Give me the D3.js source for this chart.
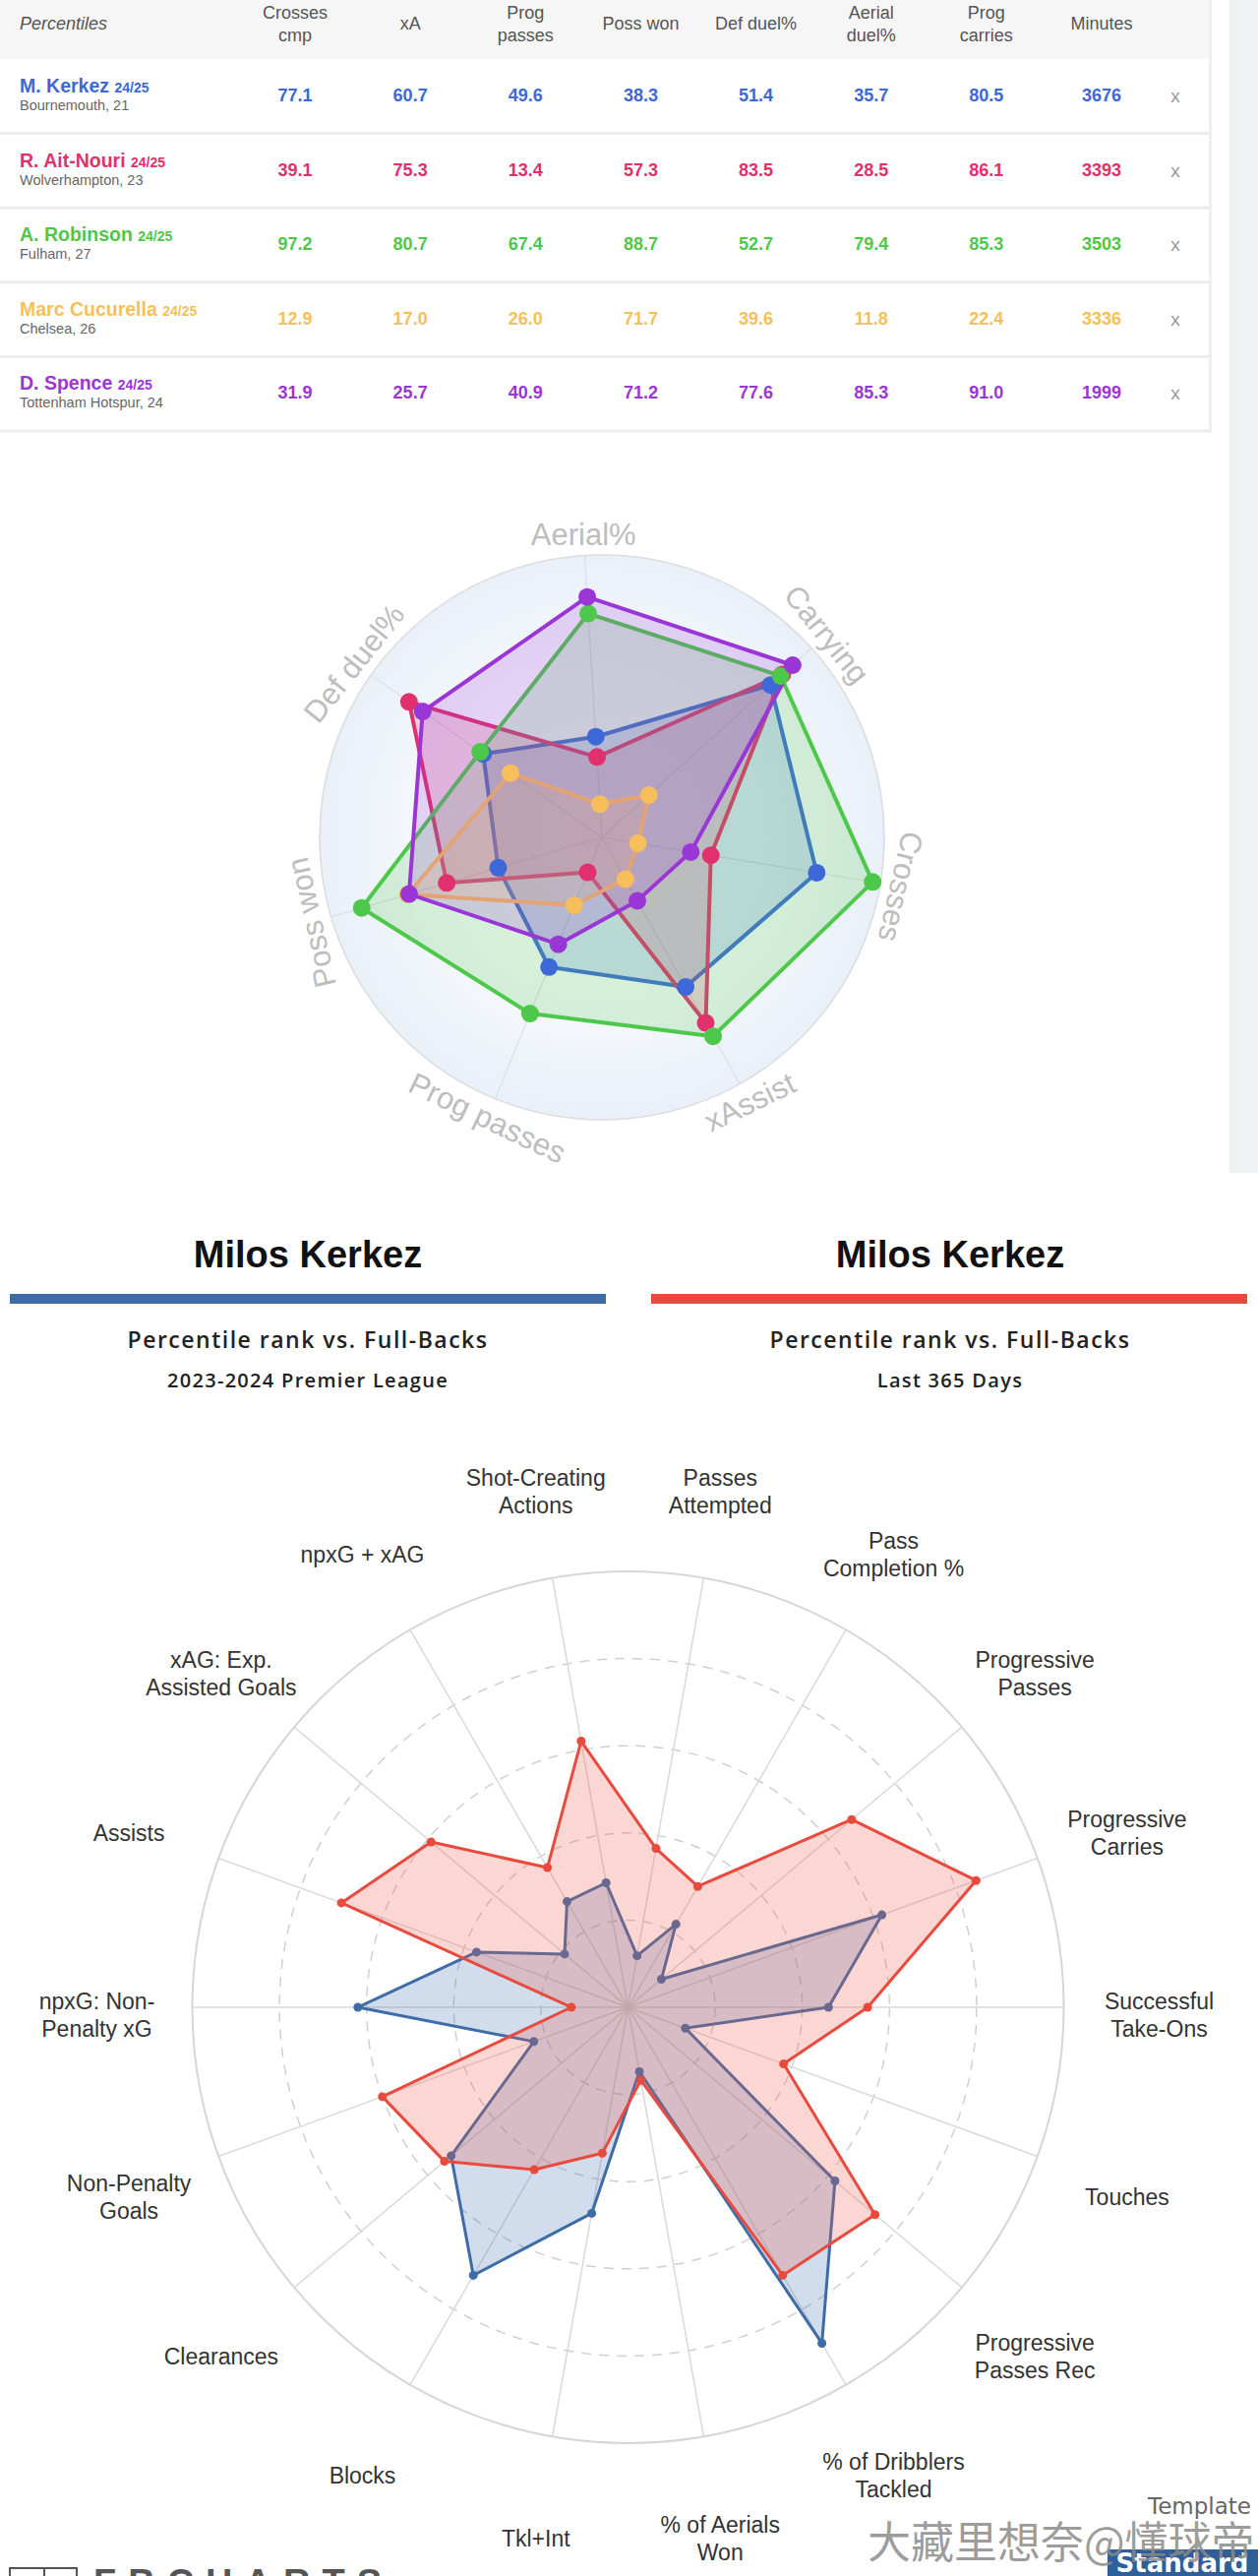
<!DOCTYPE html>
<html>
<head>
<meta charset="utf-8">
<script src="https://cdn.jsdelivr.net/npm/d3@7"></script>
<style>
  body { margin: 0; background: #fff; }
  svg { display: block; }
</style>
</head>
<body>
<div id="graf"></div>
<script>
// ---- datos tabla / radar 1 ----
const players = ['M. Kerkez', 'R. Ait-Nouri', 'A. Robinson', 'Marc Cucurella', 'D. Spence']
const season = '24/25'
const clubs = ['Bournemouth, 21', 'Wolverhampton, 23', 'Fulham, 27', 'Chelsea, 26', 'Tottenham Hotspur, 24']
const colHeaders = [['Crosses', 'cmp'], ['xA'], ['Prog', 'passes'], ['Poss won'], ['Def duel%'], ['Aerial', 'duel%'], ['Prog', 'carries'], ['Minutes']]

const crossesCmp = [77.1, 39.1, 97.2, 12.9, 31.9]
const xA = [60.7, 75.3, 80.7, 17.0, 25.7]
const progPasses = [49.6, 13.4, 67.4, 26.0, 40.9]
const possWon = [38.3, 57.3, 88.7, 71.7, 71.2]
const defDuel = [51.4, 83.5, 52.7, 39.6, 77.6]
const aerialDuel = [35.7, 28.5, 79.4, 11.8, 85.3]
const progCarries = [80.5, 86.1, 85.3, 22.4, 91.0]
const minutes = [3676, 3393, 3503, 3336, 1999]

const playerColors = ['#3d68d8', '#e0306e', '#4ec84a', '#f6bf5c', '#9b36d6']

const radar1Axes = ['Aerial%', 'Carrying', 'Crosses', 'xAssist', 'Prog passes', 'Poss won', 'Def duel%']
const radar1Series = [aerialDuel, progCarries, crossesCmp, xA, progPasses, possWon, defDuel]

// ---- datos radar 2 (Milos Kerkez) ----
const radar2Axes = [
  ['Passes', 'Attempted'], ['Pass', 'Completion %'], ['Progressive', 'Passes'], ['Progressive', 'Carries'],
  ['Successful', 'Take-Ons'], ['Touches'], ['Progressive', 'Passes Rec'], ['% of Dribblers', 'Tackled'],
  ['% of Aerials', 'Won'], ['Tkl+Int'], ['Blocks'], ['Clearances'], ['Non-Penalty', 'Goals'],
  ['npxG: Non-', 'Penalty xG'], ['Assists'], ['xAG: Exp.', 'Assisted Goals'], ['npxG + xAG'], ['Shot-Creating', 'Actions']
]
const season2324 = [12, 22, 10, 62, 46, 14, 62, 89, 15, 48, 71, 53, 23, 62, 37, 19, 28, 29]
const last365 = [37, 32, 67, 85, 55, 38, 74, 71, 17, 34, 43, 55, 60, 13, 70, 59, 37, 62]
const ringTicks = [20, 40, 60, 80]

const titles = ['Milos Kerkez', 'Milos Kerkez']
const subtitles = ['Percentile rank vs. Full-Backs', 'Percentile rank vs. Full-Backs']
const periods = ['2023-2024 Premier League', 'Last 365 Days']
const periodColors = ['#3d6ca6', '#e84b3e']

const W = 1279
const H = 2618
const rad = Math.PI / 180

const svg = d3.select('#graf')
  .append('svg')
  .attr('width', W)
  .attr('height', H)
  .style('font-family', '"Liberation Sans", Arial, sans-serif')

const defs = svg.append('defs')

// franja gris de la derecha
svg.append('rect')
  .attr('x', 1250).attr('y', 0)
  .attr('width', 29).attr('height', 1192)
  .attr('fill', '#f0f1f3')

// ================= TABLA =================
const cols = d3.range(colHeaders.length)
const x = d3.scalePoint().domain(cols).range([300, 1120])
const y = d3.scaleBand().domain(players).range([60, 438])

const tabla = svg.append('g')

tabla.append('rect')
  .attr('x', 0).attr('y', 0)
  .attr('width', 1230).attr('height', 60)
  .attr('fill', '#f6f6f6')

tabla.append('rect')
  .attr('x', 1229).attr('y', 0)
  .attr('width', 3).attr('height', 440)
  .attr('fill', '#efefef')

tabla.append('text')
  .attr('x', 20).attr('y', 30)
  .attr('font-size', 18)
  .attr('font-style', 'italic')
  .attr('fill', '#555')
  .text('Percentiles')

colHeaders.forEach((lines, i) => {
  const t = tabla.append('text')
    .attr('x', x(i))
    .attr('text-anchor', 'middle')
    .attr('font-size', 18)
    .attr('fill', '#555')
  lines.forEach((l, j) => {
    t.append('tspan')
      .attr('x', x(i))
      .attr('y', lines.length == 1 ? 30 : 19 + j * 23)
      .text(l)
  })
})

const values = [crossesCmp, xA, progPasses, possWon, defDuel, aerialDuel, progCarries, minutes]

players.forEach((p, k) => {
  const y0 = y(p)
  const row = tabla.append('g')

  row.append('line')
    .attr('x1', 0).attr('x2', 1230)
    .attr('y1', y0 + y.bandwidth()).attr('y2', y0 + y.bandwidth())
    .attr('stroke', '#ececec')
    .attr('stroke-width', 3)

  const nm = row.append('text')
    .attr('x', 20).attr('y', y0 + 34)
    .attr('font-weight', 'bold')
    .attr('fill', playerColors[k])
  nm.append('tspan').attr('font-size', 19.5).text(p + ' ')
  nm.append('tspan').attr('font-size', 14).text(season)

  row.append('text')
    .attr('x', 20).attr('y', y0 + 52)
    .attr('font-size', 14.5)
    .attr('fill', '#666')
    .text(clubs[k])

  values.forEach((arr, i) => {
    row.append('text')
      .attr('x', x(i)).attr('y', y0 + 43)
      .attr('text-anchor', 'middle')
      .attr('font-size', 18)
      .attr('font-weight', 'bold')
      .attr('fill', playerColors[k])
      .text(i == 7 ? arr[k] : arr[k].toFixed(1))
  })

  row.append('text')
    .attr('x', 1195).attr('y', y0 + 44)
    .attr('text-anchor', 'middle')
    .attr('font-size', 19)
    .attr('fill', '#999')
    .text('x')
})

// ================= RADAR 1 =================
const c1 = { x: 612, y: 851 }
const R1 = 287
const off1 = -3.5
const r1 = d3.scaleLinear().domain([0, 100]).range([0, R1])
const step1 = 360 / radar1Axes.length

const grad = defs.append('radialGradient').attr('id', 'bg1')
grad.append('stop').attr('offset', '0%').attr('stop-color', '#ffffff')
grad.append('stop').attr('offset', '60%').attr('stop-color', '#f6f9fd')
grad.append('stop').attr('offset', '100%').attr('stop-color', '#e9f0f8')

const g1 = svg.append('g').attr('transform', `translate(${c1.x}, ${c1.y})`)

g1.append('circle')
  .attr('r', R1)
  .attr('fill', 'url(#bg1)')
  .attr('stroke', '#d9dce0')
  .attr('stroke-width', 1.5)

radar1Axes.forEach((a, i) => {
  const ang = (i * step1 + off1) * rad
  g1.append('line')
    .attr('x1', 0).attr('y1', 0)
    .attr('x2', R1 * Math.sin(ang)).attr('y2', -R1 * Math.cos(ang))
    .attr('stroke', '#dcdfe3')
    .attr('stroke-width', 1.2)

  const nominal = i * step1
  const rot = nominal <= 110 ? nominal : nominal < 250 ? nominal - 180 : nominal - 360
  const lr = 308
  g1.append('text')
    .attr('transform', `translate(${lr * Math.sin(ang)}, ${-lr * Math.cos(ang)}) rotate(${rot})`)
    .attr('text-anchor', 'middle')
    .attr('dy', '0.35em')
    .attr('font-size', 31)
    .attr('fill', '#bdbdbd')
    .text(a)
})

const line1 = d3.lineRadial()
  .angle((d, i) => (i * step1 + off1) * rad)
  .radius(d => r1(d))
  .curve(d3.curveLinearClosed)

players.forEach((p, k) => {
  const vals = radar1Series.map(s => s[k])
  g1.append('path')
    .datum(vals)
    .attr('d', line1)
    .attr('fill', playerColors[k])
    .attr('fill-opacity', 0.2)
    .attr('stroke', playerColors[k])
    .attr('stroke-width', 4)
    .attr('stroke-linejoin', 'round')
})

players.forEach((p, k) => {
  const vals = radar1Series.map(s => s[k])
  g1.selectAll(null)
    .data(vals)
    .enter()
    .append('circle')
      .attr('cx', (d, i) => r1(d) * Math.sin((i * step1 + off1) * rad))
      .attr('cy', (d, i) => -r1(d) * Math.cos((i * step1 + off1) * rad))
      .attr('r', 9)
      .attr('fill', playerColors[k])
})

// ================= CABECERAS =================
const centersX = [313, 966]
titles.forEach((t, i) => {
  svg.append('text')
    .attr('x', centersX[i]).attr('y', 1288)
    .attr('text-anchor', 'middle')
    .attr('font-size', 38)
    .attr('font-weight', 'bold')
    .attr('fill', '#111')
    .text(t)

  svg.append('rect')
    .attr('x', i == 0 ? 10 : 662).attr('y', 1315)
    .attr('width', 606).attr('height', 10)
    .attr('fill', periodColors[i])

  svg.append('text')
    .attr('x', centersX[i]).attr('y', 1370)
    .attr('text-anchor', 'middle')
    .attr('font-family', '"Open Sans", sans-serif')
    .attr('font-size', 23)
    .attr('font-weight', 600)
    .attr('letter-spacing', 1.5)
    .attr('fill', '#222')
    .text(subtitles[i])

  svg.append('text')
    .attr('x', centersX[i]).attr('y', 1410)
    .attr('text-anchor', 'middle')
    .attr('font-family', '"Open Sans", sans-serif')
    .attr('font-size', 20)
    .attr('font-weight', 600)
    .attr('letter-spacing', 1.3)
    .attr('fill', '#222')
    .text(periods[i])
})

// ================= RADAR 2 =================
const c2 = { x: 638.5, y: 2040 }
const R2 = 443
const r2 = d3.scaleLinear().domain([0, 100]).range([0, R2])
const step2 = 360 / radar2Axes.length
const a2 = i => (step2 / 2 + i * step2) * rad

const g2 = svg.append('g').attr('transform', `translate(${c2.x}, ${c2.y})`)

ringTicks.forEach(t => {
  g2.append('circle')
    .attr('r', r2(t))
    .attr('fill', 'none')
    .attr('stroke', '#d0d0d0')
    .attr('stroke-width', 1.5)
    .attr('stroke-dasharray', '10,8')
})

g2.append('circle')
  .attr('r', R2)
  .attr('fill', 'none')
  .attr('stroke', '#d6d6d6')
  .attr('stroke-width', 2)

radar2Axes.forEach((lines, i) => {
  const ang = a2(i)
  g2.append('line')
    .attr('x1', 0).attr('y1', 0)
    .attr('x2', R2 * Math.sin(ang)).attr('y2', -R2 * Math.cos(ang))
    .attr('stroke', '#d9d9d9')
    .attr('stroke-width', 1.5)

  const lr = 540
  const t = g2.append('text')
    .attr('text-anchor', 'middle')
    .attr('font-size', 23)
    .attr('fill', '#333')
  lines.forEach((l, j) => {
    t.append('tspan')
      .attr('x', lr * Math.sin(ang))
      .attr('y', -lr * Math.cos(ang) - (lines.length - 1) * 14 + j * 28 + 16)
      .text(l)
  })
})

const line2 = d3.lineRadial()
  .angle((d, i) => a2(i))
  .radius(d => r2(d))
  .curve(d3.curveLinearClosed)

const series2 = [
  { vals: season2324, stroke: '#3d6ca6', fill: 'rgba(70,120,180,0.25)' },
  { vals: last365, stroke: '#e84b3e', fill: 'rgba(240,90,80,0.25)' }
]

series2.forEach(s => {
  g2.append('path')
    .datum(s.vals)
    .attr('d', line2)
    .attr('fill', s.fill)
    .attr('stroke', s.stroke)
    .attr('stroke-width', 3)
    .attr('stroke-linejoin', 'round')

  g2.selectAll(null)
    .data(s.vals)
    .enter()
    .append('circle')
      .attr('cx', (d, i) => r2(d) * Math.sin(a2(i)))
      .attr('cy', (d, i) => -r2(d) * Math.cos(a2(i)))
      .attr('r', 4.5)
      .attr('fill', s.stroke)
})

// ================= PIE =================
const logo = svg.append('g')
logo.append('rect')
  .attr('x', 10).attr('y', 2610)
  .attr('width', 68).attr('height', 20)
  .attr('fill', 'none')
  .attr('stroke', '#555')
  .attr('stroke-width', 2)
logo.append('line')
  .attr('x1', 45).attr('x2', 45)
  .attr('y1', 2610).attr('y2', 2630)
  .attr('stroke', '#555')
  .attr('stroke-width', 2)
logo.append('text')
  .attr('x', 95).attr('y', 2638)
  .attr('font-size', 38)
  .attr('font-weight', 'bold')
  .attr('letter-spacing', 12)
  .attr('fill', '#555')
  .text('FBCHARTS')

svg.append('text')
  .attr('x', 1272).attr('y', 2555)
  .attr('text-anchor', 'end')
  .attr('font-family', '"DejaVu Sans", sans-serif')
  .attr('font-size', 23)
  .attr('fill', '#666')
  .text('Template')

svg.append('rect')
  .attr('x', 1126).attr('y', 2591)
  .attr('width', 153).attr('height', 27)
  .attr('fill', '#2f5f98')

svg.append('text')
  .attr('x', 1202).attr('y', 2614)
  .attr('text-anchor', 'middle')
  .attr('font-family', '"DejaVu Sans", sans-serif')
  .attr('font-size', 26)
  .attr('font-weight', 'bold')
  .attr('fill', '#fff')
  .text('Standard')

svg.append('text')
  .attr('x', 882).attr('y', 2600)
  .attr('font-family', '"Noto Sans CJK SC", sans-serif')
  .attr('font-size', 44)
  .attr('fill', '#8a8a8a')
  .attr('fill-opacity', 0.85)
  .text('大藏里想奈@懂球帝')
</script>
</body>
</html>
